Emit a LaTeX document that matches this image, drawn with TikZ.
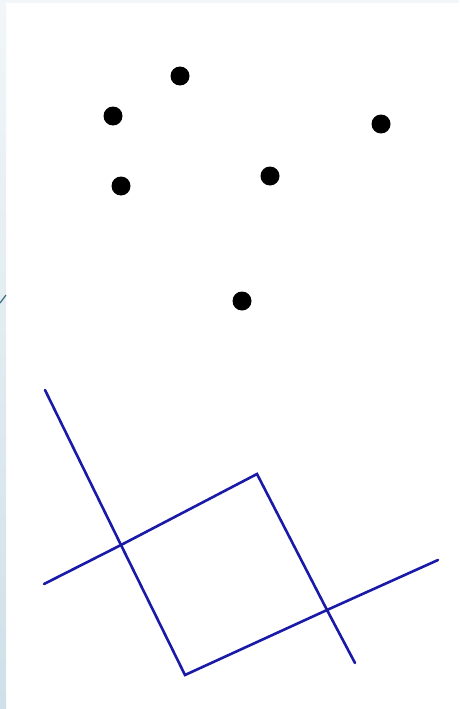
\documentclass[tikz,border=0pt]{standalone}
\usetikzlibrary{shadings}
\definecolor{stripblue}{HTML}{CFE0E8}
\definecolor{stripwhite}{HTML}{F2F6F8}
\definecolor{markteal}{HTML}{3A6A80}
\definecolor{lineblue}{HTML}{1A1AA8}
\tikzset{
  blueline/.style={draw=lineblue, line width=2.6pt, line cap=round, line join=miter},
  pointdot/.style={fill=black}
}
\begin{document}
\begin{tikzpicture}[x=1pt,y=-1pt]
    \useasboundingbox (0,0) rectangle (459,709);
    \fill[white] (0,0) rectangle (459,709);
    % frame strips
    \fill[stripwhite] (0,0) rectangle (459,3);
    \shade[top color=stripwhite, bottom color=stripblue] (0,0) rectangle (6,709);
    \draw[markteal, line width=1.2pt] (0,303) -- (6,295);
    % points
    \foreach \px/\py in {180/76, 113/116, 121/186, 270/176, 381/124, 242/301}
      \fill[pointdot] (\px,\py) circle (9.5);
    % square corners and line ends
    \coordinate (topL) at (45,390);
    \coordinate (crossL) at (121,545);
    \coordinate (botC) at (185,675);
    \coordinate (crossR) at (327,610);
    \coordinate (endR) at (438,560);
    \coordinate (topC) at (257,474);
    \coordinate (endL) at (44,584);
    \coordinate (endB) at (355,663);
    \draw[blueline] (topL) -- (crossL) -- (botC) -- (crossR) -- (endR);
    \draw[blueline] (endL) -- (crossL) -- (topC) -- (crossR) -- (endB);
  \end{tikzpicture}
\end{document}
